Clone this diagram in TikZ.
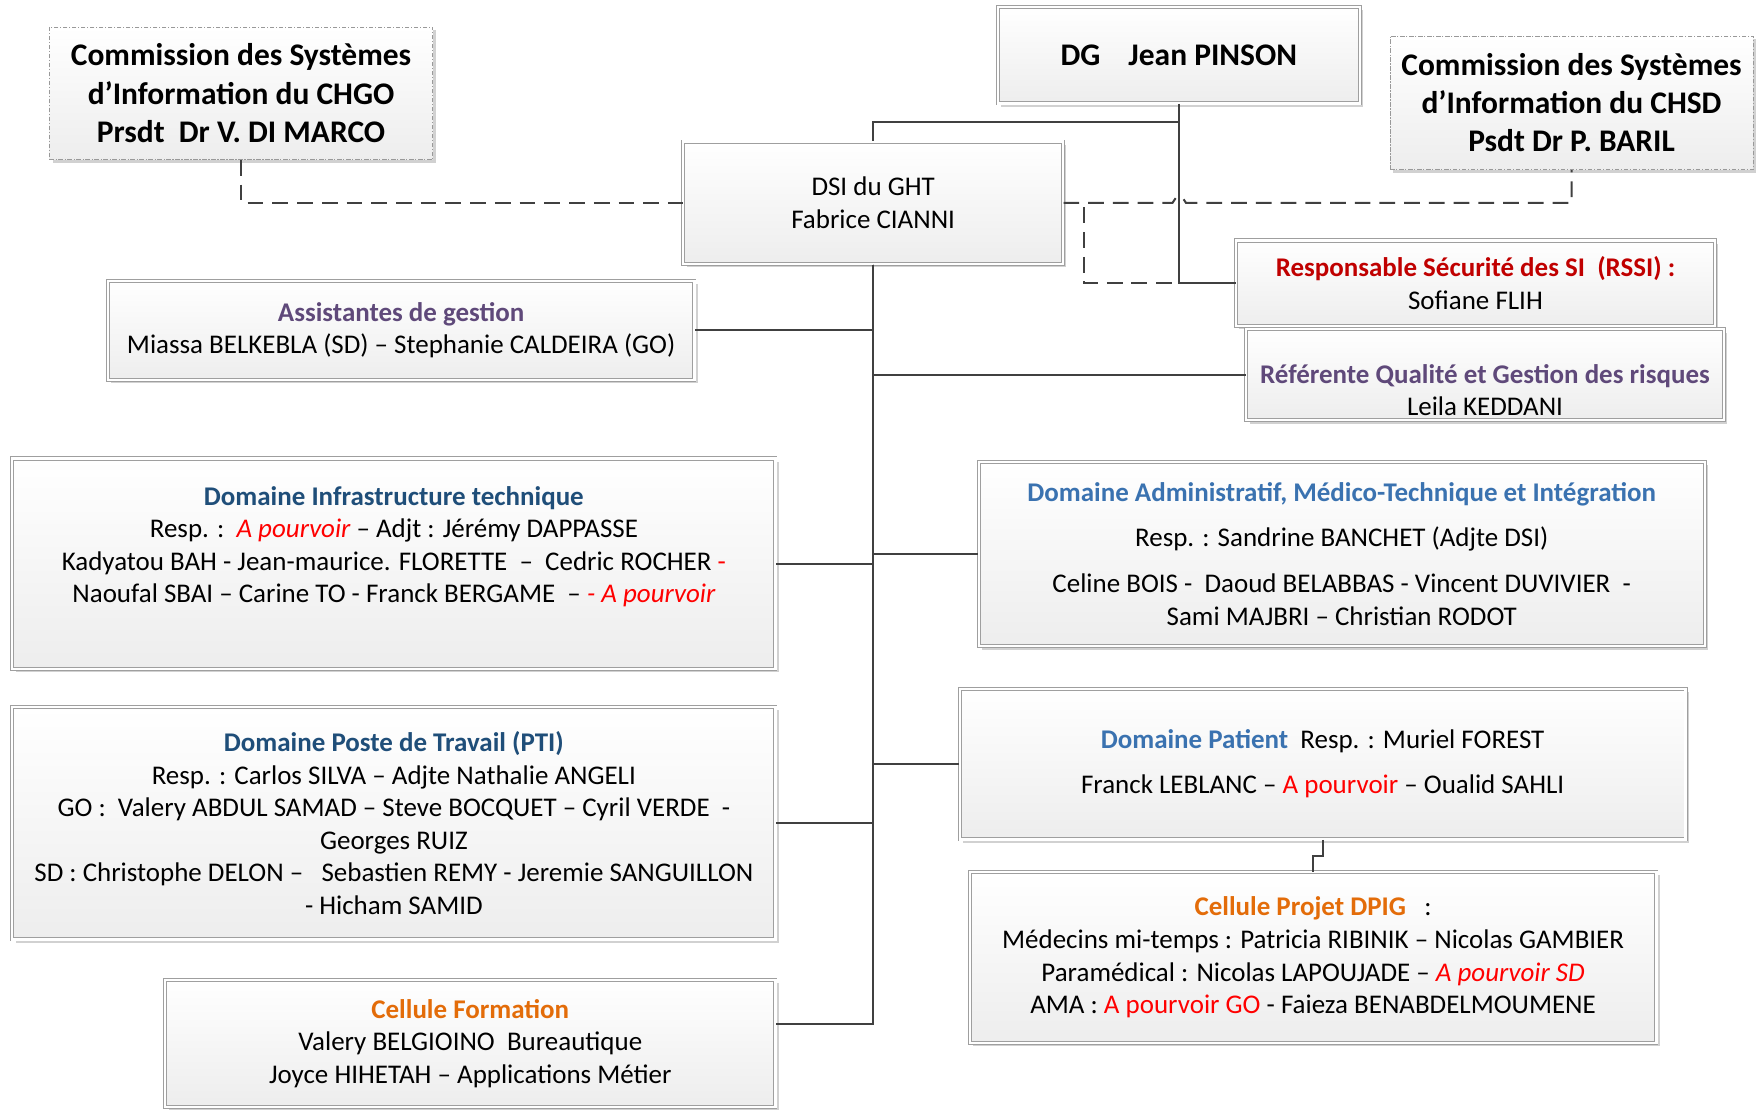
\documentclass[tikz,border=0pt]{standalone}
\usepackage{fontspec}
\setmainfont{Carlito}
\usetikzlibrary{shadows}
\definecolor{purp}{HTML}{5F497A}
\definecolor{dblue}{HTML}{1F4E79}
\definecolor{lblue}{HTML}{3A72B0}
\definecolor{rsred}{HTML}{C00000}
\definecolor{apred}{HTML}{FF0000}
\definecolor{orng}{HTML}{E36C09}
\definecolor{lnk}{HTML}{404040}
\tikzset{
  orgbox/.style={draw=gray!75, line width=0.8pt, double=white, double distance=2pt,
    top color=white, bottom color=gray!14, inner sep=0pt, align=center,
    drop shadow={shadow xshift=3pt, shadow yshift=-3pt, fill=black!18, opacity=1},
    font=\fontsize{24}{29}\selectfont},
  cmbox/.style={draw=gray!80, line width=0.8pt, dash pattern=on 4pt off 1.5pt on 1pt off 1.5pt,
    top color=white, bottom color=gray!14, inner sep=0pt, align=center,
    drop shadow={shadow xshift=3pt, shadow yshift=-3pt, fill=black!18, opacity=1},
    font=\bfseries\fontsize{28}{34}\selectfont},
  txt/.style={align=center, inner sep=0pt, font=\fontsize{24}{29}\selectfont},
  link/.style={draw=lnk, line width=1.8pt},
  dashlink/.style={link, dash pattern=on 14pt off 8pt},
}
\newcommand{\apv}[1]{{\color{apred}#1}}
\begin{document}
\begin{tikzpicture}[x=1pt,y=-1pt]
\useasboundingbox (0,0) rectangle (1568,988);
% top level
\node[cmbox, minimum width=341, minimum height=118] (chgo) at (214.5,83)
  {Commission des Systèmes\\d’Information du CHGO\\Prsdt~~Dr V. DI MARCO};
\node[orgbox, minimum width=322, minimum height=86, font=\bfseries\fontsize{28}{34}\selectfont] (dg) at (1049,49)
  {DG\hspace{25pt}Jean PINSON};
\node[cmbox, minimum width=323, minimum height=119] (chsd) at (1398.5,91.5)
  {Commission des Systèmes\\d’Information du CHSD\\Psdt Dr P. BARIL};
\node[orgbox, minimum width=338, minimum height=109] (dsi) at (777,180.5)
  {DSI du GHT\\Fabrice CIANNI};
% staff
\node[orgbox, minimum width=522, minimum height=88] (assist) at (357,294)
  {{\color{purp}\bfseries Assistantes de gestion}\\Miassa BELKEBLA (SD) – Stephanie CALDEIRA (GO)};
\node[orgbox, minimum width=426, minimum height=76] (rssi) at (1313,252)
  {{\color{rsred}\bfseries Responsable Sécurité des SI~~(RSSI) :}\\Sofiane FLIH};
\node[orgbox, minimum width=425, minimum height=81] (qual) at (1321.5,333.5) {};
\node[txt] (qualtxt) at (1321.5,347)
  {{\color{purp}\bfseries Référente Qualité et Gestion des risques}\\Leila KEDDANI};
% domaines
\node[orgbox, minimum width=679, minimum height=187] (infra) at (350.5,501.5) {};
\node[txt] (infratxt) at (350.5,486.5)
  {{\color{dblue}\bfseries Domaine Infrastructure technique}\\
   Resp. :~~\apv{\itshape A pourvoir} – Adjt : Jérémy DAPPASSE\\
   Kadyatou BAH - Jean-maurice. FLORETTE~~–~~Cedric ROCHER \apv{-}\\
   Naoufal SBAI – Carine TO - Franck BERGAME~~– \apv{\itshape - A pourvoir}};
\node[orgbox, minimum width=646, minimum height=164] (admin) at (1194,493)
  {{\color{lblue}\bfseries Domaine Administratif, Médico-Technique et Intégration}\\[11pt]
   Resp. : Sandrine BANCHET (Adjte DSI)\\[12pt]
   Celine BOIS -~~Daoud BELABBAS - Vincent DUVIVIER~~-\\
   Sami MAJBRI – Christian RODOT};
\node[orgbox, minimum width=679, minimum height=207] (pti) at (350.5,732.5)
  {{\color{dblue}\bfseries Domaine Poste de Travail (PTI)}\\
   Resp. : Carlos SILVA – Adjte Nathalie ANGELI\\
   GO :~~Valery ABDUL SAMAD – Steve BOCQUET – Cyril VERDE~~-\\
   Georges RUIZ\\
   SD : Christophe DELON –~~~Sebastien REMY - Jeremie SANGUILLON\\
   - Hicham SAMID};
\node[orgbox, minimum width=646, minimum height=134] (patient) at (1177,680)
  {{\color{lblue}\bfseries Domaine Patient}~~Resp. : Muriel FOREST\\[11pt]
   Franck LEBLANC – \apv{A pourvoir} – Oualid SAHLI};
\node[orgbox, minimum width=611, minimum height=152] (dpig) at (1168.5,852)
  {{\color{orng}\bfseries Cellule Projet DPIG}~~~:\\
   Médecins mi-temps : Patricia RIBINIK – Nicolas GAMBIER\\
   Paramédical : Nicolas LAPOUJADE – \apv{\itshape A pourvoir SD}\\
   AMA : \apv{A pourvoir GO} - Faieza BENABDELMOUMENE};
\node[orgbox, minimum width=543, minimum height=113] (formation) at (418.5,928.5)
  {{\color{orng}\bfseries Cellule Formation}\\
   Valery BELGIOINO~~Bureautique\\
   Joyce HIHETAH – Applications Métier};
% solid links
\draw[link] (dg.south) -- ++(0,16) -| (dsi.north);
\draw[link] (dg.south) |- (rssi.west);
\draw[link] (dsi.south) |- (assist.east);
\draw[link] (dsi.south) |- (qual.west);
\draw[link] (dsi.south) |- (infra.east);
\draw[link] (dsi.south) |- (admin.west);
\draw[link] (dsi.south) |- (patient.west);
\draw[link] (dsi.south) |- (pti.east);
\draw[link] (dsi.south) |- ([yshift=17.5pt]formation.east);
\draw[link] (patient.south) -- ++(0,14) -| (dpig.north);
% dashed links
\draw[dashlink] (chgo.south) |- (dsi.west);
\draw[dashlink] (dsi.east) -- ++(97,0) -- ++(3,-4.5) -- ++(6,0) -- ++(3,4.5) -| (chsd.south);
\draw[dashlink] (dsi.east) -- ++(18,0) |- (rssi.west);
\end{tikzpicture}
\end{document}
